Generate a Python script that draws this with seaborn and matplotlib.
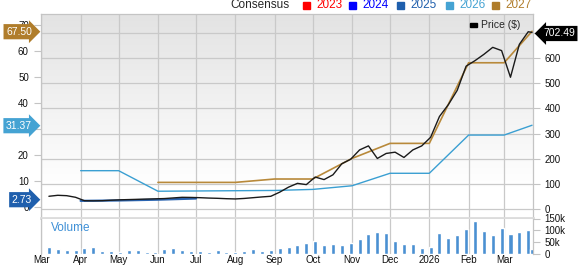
import numpy as np
import pandas as pd
import matplotlib
matplotlib.use("Agg")
import matplotlib.pyplot as plt
import matplotlib.dates as mdates
from matplotlib.patches import Rectangle
from matplotlib.colors import LinearSegmentedColormap
import seaborn as sns

# ---------------- data ----------------
price_dates = list(pd.date_range("2025-03-07", periods=55, freq="7D")) + [pd.Timestamp("2026-03-23")]
price = [50.6, 54.5, 53, 46.6, 33, 32.5, 33, 35, 36.5, 37.5, 38.5, 39.5, 40.5, 41.5,
         44, 46.5, 46, 45, 43.5, 42.5, 41, 40, 42, 45, 48, 50.6, 67, 87, 102, 97,
         127, 117, 136, 180, 198, 235, 251, 201, 221, 226, 205, 235, 251, 285, 368,
         415, 472, 568, 590, 615, 643, 630, 524, 655, 705, 702.49]

vol_dates = price_dates
volume_k = [31, 21, 18, 16, 27, 30, 13, 13, 10, 16, 16, 10, 10, 21, 24, 16, 13, 13,
            10, 16, 10, 9, 13, 21, 13, 16, 24, 30, 38, 45, 57, 37, 41, 40, 45, 62,
            85, 91, 87, 53, 41, 43, 26, 28, 90, 66, 80, 107, 139, 98, 80, 108, 84,
            91, 100, 23]

eps_2025_dates = ["2025-04-01", "2025-05-01", "2025-06-01", "2025-07-01"]
eps_2025 = [2.3, 2.45, 2.75, 3.2]

eps_2026_dates = ["2025-04-01", "2025-05-01", "2025-06-01", "2025-07-01", "2025-08-01",
                  "2025-09-01", "2025-10-01", "2025-11-01", "2025-12-01", "2026-01-01",
                  "2026-02-01", "2026-03-01", "2026-03-23"]
eps_2026 = [13.9, 13.9, 6.0, 6.1, 6.2, 6.3, 6.7, 8.1, 12.9, 12.9, 27.6, 27.6, 31.37]

eps_2027_dates = ["2025-06-01", "2025-07-01", "2025-08-01", "2025-09-01", "2025-10-01",
                  "2025-11-01", "2025-12-01", "2026-01-01", "2026-02-01", "2026-03-01",
                  "2026-03-23"]
eps_2027 = [9.4, 9.4, 9.4, 10.7, 10.7, 18.6, 24.4, 24.4, 55.4, 55.4, 67.50]

month_ticks = pd.date_range("2025-03-01", "2026-03-01", freq="MS")
month_labels = ["Mar", "Apr", "May", "Jun", "Jul", "Aug", "Sep", "Oct", "Nov", "Dec",
                "2026", "Feb", "Mar"]

legend_years = ["2023", "2024", "2025", "2026", "2027"]
legend_colors = ["#ff0000", "#0000ff", "#1f5fad", "#45a3d3", "#b07d2b"]

price_ticks = [0, 100, 200, 300, 400, 500, 600, 700]
eps_ticks = [0, 10, 20, 30, 40, 50, 60, 70]
vol_ticks = [0, 50, 100, 150]

# ---------------- style ----------------
sns.set_style("white")
plt.rcParams["font.family"] = ["Liberation Sans", "DejaVu Sans"]

W, H = 579, 266
fig = plt.figure(figsize=(W / 100, H / 100), dpi=100)


def fx(px):
    return px / W


def fy(py):
    return 1 - py / H


L, R = 41.3, 533.3
TOP, MB = 14, 217.5
main_rect = [fx(L), fy(MB), (R - L) / W, (MB - TOP) / H]
vol_rect = [fx(L), fy(254), (R - L) / W, (254 - 218.5) / H]

xmin, xmax = pd.Timestamp("2025-03-01"), pd.Timestamp("2026-03-24")
grid_c = "#c9c9c9"
spine_c = "#c4c4c4"

# gradient background
bg = fig.add_axes(main_rect, zorder=0)
cmap = LinearSegmentedColormap.from_list("g", ["#e3e3e3", "#ffffff"])
vals = np.clip(np.linspace(0, 1, 256) / 0.85, 0, 1).reshape(-1, 1)
bg.imshow(vals, aspect="auto", cmap=cmap, extent=(0, 1, 0, 1), vmin=0, vmax=1)
bg.axis("off")

# price axes with grid (right ticks)
ax_p = fig.add_axes(main_rect, zorder=1)
ax_p.patch.set_alpha(0)
ax_p.set_xlim(xmin, xmax)
ax_p.set_ylim(-33.8, 775.6)
ax_p.set_xticks(month_ticks)
ax_p.set_xticklabels([])
ax_p.set_yticks(price_ticks)
ax_p.yaxis.tick_right()
ax_p.tick_params(axis="y", which="both", right=True, left=False, length=5, width=0.8,
                 color=spine_c, labelsize=7, pad=3, labelcolor="#111111")
ax_p.tick_params(axis="x", length=0)
ax_p.grid(True, color=grid_c, lw=0.9)
for s in ["left", "right", "top"]:
    ax_p.spines[s].set_color(spine_c)
    ax_p.spines[s].set_linewidth(0.9)
ax_p.spines["bottom"].set_color("#dcdcdc")
ax_p.spines["bottom"].set_linewidth(2)

# EPS axes (left ticks)
ax_e = fig.add_axes(main_rect, zorder=2, sharex=ax_p)
ax_e.patch.set_alpha(0)
ax_e.set_ylim(-4.1, 74.15)
ax_e.set_yticks(eps_ticks)
ax_e.tick_params(axis="y", left=True, right=False, length=5, width=0.8, color=spine_c,
                 labelsize=7, pad=4, labelcolor="#111111")
ax_e.tick_params(axis="x", length=0, labelbottom=False)
for s in ax_e.spines.values():
    s.set_visible(False)

d25 = pd.DataFrame({"date": pd.to_datetime(eps_2025_dates), "eps": eps_2025})
d26 = pd.DataFrame({"date": pd.to_datetime(eps_2026_dates), "eps": eps_2026})
d27 = pd.DataFrame({"date": pd.to_datetime(eps_2027_dates), "eps": eps_2027})
sns.lineplot(data=d26, x="date", y="eps", ax=ax_e, color="#3a9fd2", lw=1.0)
sns.lineplot(data=d27, x="date", y="eps", ax=ax_e, color="#b8893a", lw=1.2)
sns.lineplot(data=d25, x="date", y="eps", ax=ax_e, color="#2a64b0", lw=1.6)
ax_e.set_xlabel("")
ax_e.set_ylabel("")

# price line overlay
ax_l = fig.add_axes(main_rect, zorder=3, sharex=ax_p, sharey=ax_p)
ax_l.patch.set_alpha(0)
ax_l.axis("off")
dp = pd.DataFrame({"date": pd.to_datetime(price_dates), "price": price})
sns.lineplot(data=dp, x="date", y="price", ax=ax_l, color="#1a1a1a", lw=1.0)
ax_l.set_xlim(xmin, xmax)

# price legend
fig.add_artist(Rectangle((fx(470), fy(26.7)), 7 / W, 4 / H, transform=fig.transFigure,
                         color="black", zorder=10))
fig.text(fx(481), fy(24.5), "Price ($)", fontsize=7.5, ha="left", va="center", zorder=10)

# volume axes
ax_v = fig.add_axes(vol_rect, zorder=1)
dv = pd.DataFrame({"date": pd.to_datetime(vol_dates), "vol": volume_k})
ax_v.bar(dv["date"], dv["vol"], width=3.2, color="#4a90d2", zorder=2)
ax_v.set_xlim(xmin, xmax)
ax_v.set_ylim(0, 150)
ax_v.set_xticks(month_ticks)
ax_v.set_xticklabels(month_labels)
ax_v.set_yticks(vol_ticks)
ax_v.set_yticklabels(["0" if v == 0 else f"{v}k" for v in vol_ticks])
ax_v.yaxis.tick_right()
ax_v.tick_params(axis="y", right=True, left=False, length=5, width=0.8, color=spine_c,
                 labelsize=7, pad=3, labelcolor="#111111")
ax_v.tick_params(axis="x", length=0, labelsize=7, pad=1, labelcolor="#111111")
ax_v.grid(True, axis="x", color=grid_c, lw=0.9)
ax_v.set_axisbelow(True)
ax_v.spines["top"].set_visible(False)
ax_v.spines["bottom"].set_visible(False)
for s in ["left", "right"]:
    ax_v.spines[s].set_color(spine_c)
    ax_v.spines[s].set_linewidth(0.9)
ax_v.text(fx(51), fy(228), "Volume", transform=fig.transFigure, fontsize=8.5,
          color="#3d8fd6", ha="left", va="center")

# top consensus legend
fig.text(fx(230.5), fy(5), "Consensus", fontsize=8.5, ha="left", va="center")
sq_x = [303.3, 349.3, 396.7, 446, 491.7]
for x, yr, c in zip(sq_x, legend_years, legend_colors):
    fig.add_artist(Rectangle((fx(x), fy(8.5)), 7 / W, 7 / H, transform=fig.transFigure,
                             color=c))
    fig.text(fx(x + 13.5), fy(5), yr, fontsize=8.5, color=c, ha="left", va="center")

# value tags
tags = [(67.50, "67.50", "#b07d2b", 31.7), (31.37, "31.37", "#45a3d3", 125.7),
        (2.73, "2.73", "#1f5fad", 199.7)]
for val, txt, c, ypx in tags:
    fig.text(fx(32), fy(ypx), txt, fontsize=7.5, color="white", ha="right", va="center",
             bbox=dict(boxstyle="rarrow,pad=0.25", fc=c, ec="none"), zorder=20)
fig.text(fx(543), fy(33.5), "702.49", fontsize=7.5, color="white", ha="left", va="center",
         bbox=dict(boxstyle="larrow,pad=0.25", fc="black", ec="none"), zorder=20)

fig.savefig("out.png", dpi=100)
